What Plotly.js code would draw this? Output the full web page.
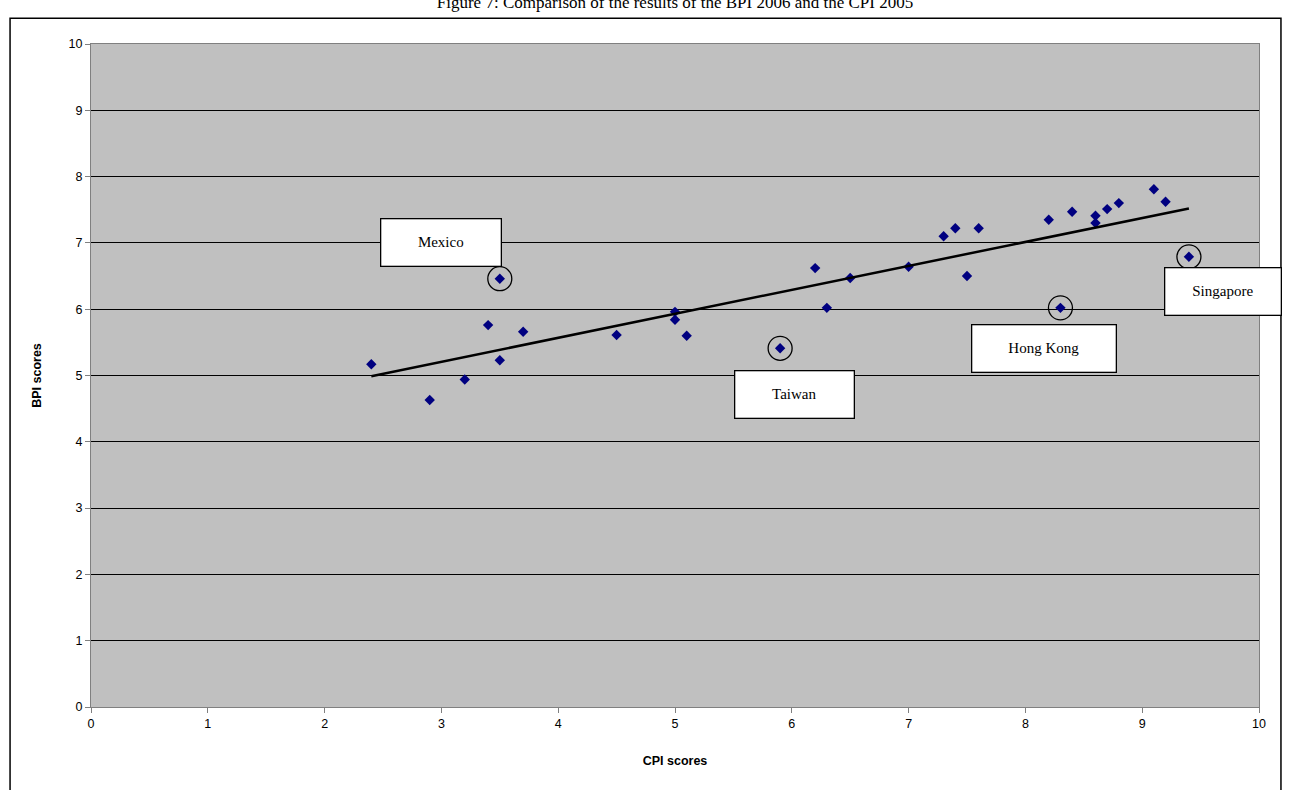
<!DOCTYPE html>
<html>
<head>
<meta charset="utf-8">
<script src="https://cdn.plot.ly/plotly-3.0.1.min.js"></script>
<style>body{margin:0;background:#fff}#chart{width:1291px;height:790px}</style>
</head>
<body>
<div id="chart"></div>
<script>
// CPI 2005 vs BPI 2006 scores
const cpi = [2.4, 2.9, 3.2, 3.4, 3.5, 3.5, 3.7, 4.5, 5.0, 5.0, 5.1, 5.9, 6.2, 6.3, 6.5,
             7.0, 7.3, 7.4, 7.5, 7.6, 8.2, 8.3, 8.4, 8.6, 8.6, 8.7, 8.8, 9.1, 9.2, 9.4];
const bpi = [5.17, 4.63, 4.94, 5.76, 6.46, 5.23, 5.66, 5.61, 5.96, 5.84, 5.60, 5.41, 6.62, 6.02, 6.47,
             6.64, 7.10, 7.22, 6.50, 7.22, 7.35, 6.02, 7.47, 7.41, 7.30, 7.51, 7.60, 7.81, 7.62, 6.79];
const trendX = [2.4, 9.4];
const trendY = [4.99, 7.52];

const callouts = [
  {name: 'Mexico',    px: 3.5, py: 6.46, bx: 3.0,  by: 7.0,  w: 121},
  {name: 'Taiwan',    px: 5.9, py: 5.41, bx: 6.02, by: 4.72, w: 120},
  {name: 'Hong Kong', px: 8.3, py: 6.02, bx: 8.16, by: 5.41, w: 145},
  {name: 'Singapore', px: 9.4, py: 6.79, bx: 9.69, by: 6.26, w: 117}
];

const traces = [
  {x: cpi, y: bpi, type: 'scatter', mode: 'markers',
   marker: {symbol: 'diamond', color: '#000080', size: 8}, hoverinfo: 'x+y'},
  {x: trendX, y: trendY, type: 'scatter', mode: 'lines',
   line: {color: '#000', width: 2.5}, hoverinfo: 'skip'}
];

const shapes = callouts.map(c => ({
  type: 'circle', xref: 'x', yref: 'y', xsizemode: 'pixel', ysizemode: 'pixel',
  xanchor: c.px, yanchor: c.py, x0: -12, x1: 12, y0: -12, y1: 12,
  line: {color: '#000', width: 1.3}
}));
shapes.push({type: 'rect', xref: 'paper', yref: 'paper',
  x0: -0.0693, x1: 1.0188, y0: -0.2, y1: 1.039, line: {color: '#000', width: 1.5}});

const annotations = callouts.map(c => ({
  x: c.bx, y: c.by, xref: 'x', yref: 'y', text: c.name, showarrow: false,
  width: c.w - 2, height: 46, bgcolor: '#fff', bordercolor: '#000', borderwidth: 1.3, borderpad: 0,
  font: {family: 'Liberation Serif, Times New Roman, serif', size: 15, color: '#000'}
}));

const layout = {
  width: 1291, height: 790,
  margin: {l: 91, r: 32, t: 44, b: 83},
  paper_bgcolor: '#fff', plot_bgcolor: '#c0c0c0',
  showlegend: false,
  title: {text: 'Figure 7: Comparison of the results of the BPI 2006 and the CPI 2005',
          x: 0.5, xref: 'paper', y: 0.997, yanchor: 'middle',
          font: {family: 'Liberation Serif, Times New Roman, serif', size: 17, color: '#000'}},
  xaxis: {range: [0, 10], dtick: 1, showgrid: false, zeroline: false,
          showline: true, linecolor: '#808080', mirror: true,
          ticks: 'outside', ticklen: 5, tickcolor: '#808080',
          tickfont: {family: 'Liberation Sans, Arial, sans-serif', size: 12.5, color: '#000'},
          title: {text: '<b>CPI scores</b>', standoff: 26,
                  font: {family: 'Liberation Sans, Arial, sans-serif', size: 12.5, color: '#000'}}},
  yaxis: {range: [0, 10], dtick: 1, showgrid: true, gridcolor: '#000', gridwidth: 1, zeroline: false,
          showline: true, linecolor: '#808080', mirror: true,
          ticks: 'outside', ticklen: 5, tickcolor: '#808080',
          tickfont: {family: 'Liberation Sans, Arial, sans-serif', size: 12.5, color: '#000'},
          title: {text: '<b>BPI scores</b>', standoff: 24,
                  font: {family: 'Liberation Sans, Arial, sans-serif', size: 12.5, color: '#000'}}},
  shapes: shapes,
  annotations: annotations
};

Plotly.newPlot('chart', traces, layout, {displayModeBar: false, staticPlot: true});
</script>
</body>
</html>
